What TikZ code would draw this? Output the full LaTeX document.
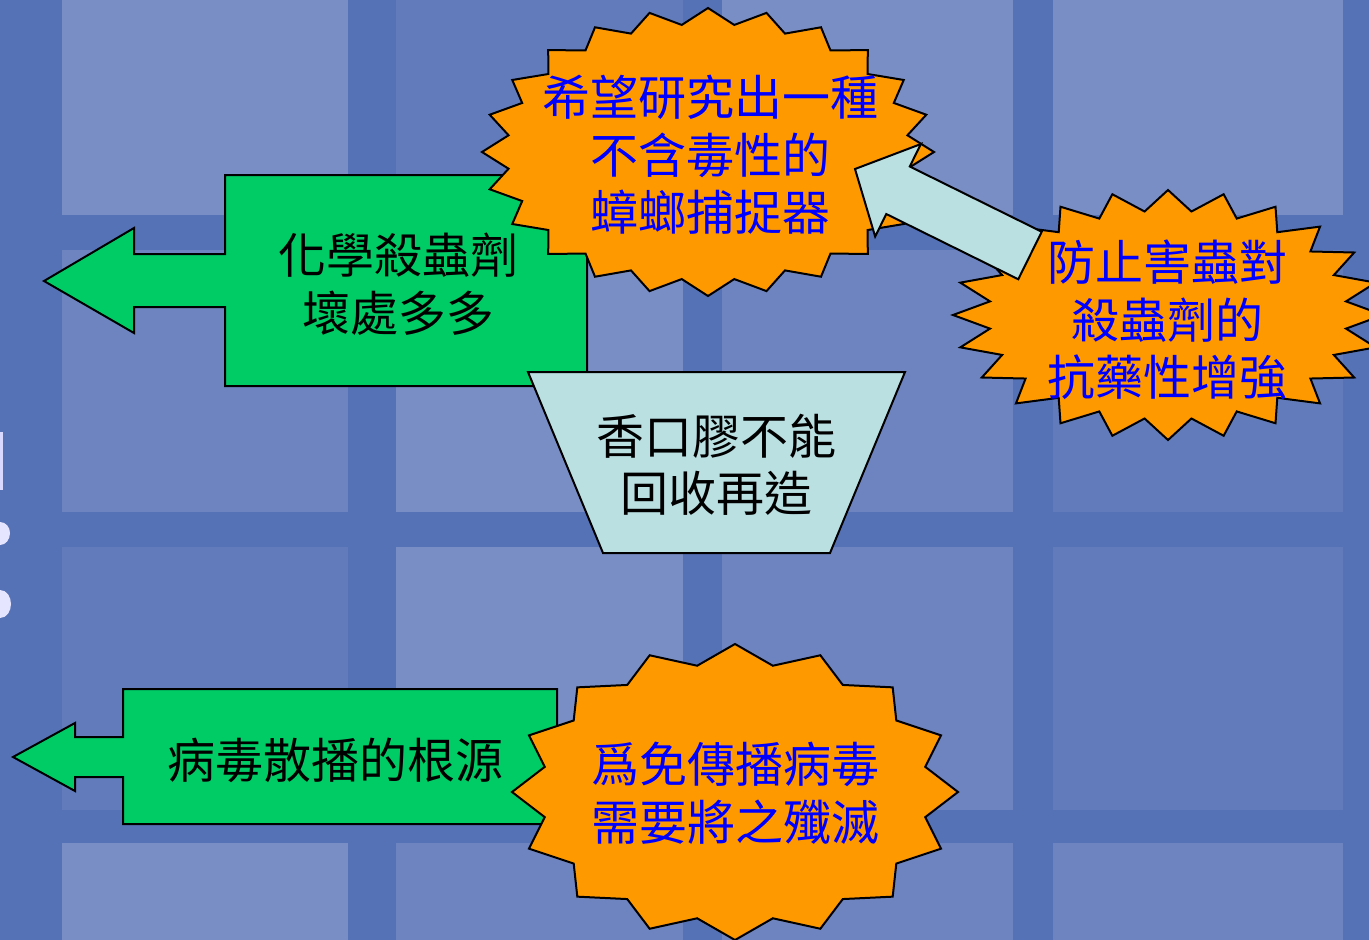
\documentclass[tikz,border=0pt]{standalone}
\usepackage{fontspec}
\newfontfamily\cjk{Noto Sans CJK TC}
\usetikzlibrary{calc}
\definecolor{bgbase}{HTML}{5672B7}
\definecolor{tileA}{HTML}{7A8EC6}
\definecolor{tileB}{HTML}{6E84C0}
\definecolor{tileC}{HTML}{627CBB}
\definecolor{leafgreen}{HTML}{00CC66}
\definecolor{burstorange}{HTML}{FF9900}
\definecolor{paleblue}{HTML}{BAE0E2}
\tikzstyle{txt} = [font={\cjk\fontsize{48}{57.5}\selectfont}, align=center, inner sep=0pt]
\tikzstyle{bluetxt} = [txt, text=blue]
\tikzstyle{greenbox} = [draw=black, line width=2pt, fill=leafgreen, line join=miter]
\tikzstyle{burst} = [draw=black, line width=2pt, fill=burstorange, line join=miter]
\tikzstyle{palebox} = [draw=black, line width=2pt, fill=paleblue, line join=miter]
% #1 centre, #2 rx, #3 ry, #4 points, #5 inner ratio
\newcommand{\seal}[5]{%
  \draw[burst] ($#1+(0,-#3)$)
    \foreach \k [evaluate=\k as \rr using {mod(\k,2)==1 ? #5 : 1}] in {1,...,\numexpr2*#4-1\relax}
      { -- ($#1+({\rr*#2*sin(\k*180/#4)},{-\rr*#3*cos(\k*180/#4)})$) } -- cycle;}
\begin{document}
\begin{tikzpicture}[x=1pt,y=-1pt]
        \useasboundingbox (0,0) rectangle (1369,940);
        \fill[bgbase] (0,0) rectangle (1369,940);
        % tiles
        \foreach \xa/\xb/\ya/\yb/\c in {62/348/-5/215/tileA, 396/683/-5/215/tileC, 722/1013/-5/215/tileA, 1053/1343/-5/215/tileA,
            62/348/250/512/tileB, 396/683/250/512/tileA, 722/1013/250/512/tileB, 1053/1343/250/512/tileC,
            62/348/547/810/tileC, 396/683/547/810/tileA, 722/1013/547/810/tileB, 1053/1343/547/810/tileC,
            62/348/843/945/tileA, 396/683/843/945/tileB, 722/1013/843/945/tileB, 1053/1343/843/945/tileB}
          \fill[\c] (\xa,\ya) rectangle (\xb,\yb);
        % bits of a cut-off title
        \fill[white!85!blue] (0,432) rectangle (3,490);
        \fill[white!90!blue] (0,522) to[out=0,in=90] (10,533) to[out=-90,in=0] (0,545) -- cycle;
        \fill[white!90!blue] (0,590) to[out=0,in=90] (11,604) to[out=-90,in=0] (0,618) -- cycle;

        \draw[greenbox] (44,281) -- (134,228) -- (134,254) -- (225,254) -- (225,175) -- (587,175)
          -- (587,386) -- (225,386) -- (225,307) -- (134,307) -- (134,333) -- cycle;
        \node[txt](chem) at (398,284){化學殺蟲劑\\壞處多多};

        \seal{(708,152)}{226}{144}{24}{0.89}
        \node[bluetxt](trap) at (710,155){希望研究出一種\\不含毒性的\\蟑螂捕捉器};

        \draw[palebox] (528,372) -- (905,372) -- (830,553) -- (603,553) -- cycle;
        \node[txt](gum) at (716,465){香口膠不能\\回收再造};

        \seal{(1168,315)}{215}{125}{24}{0.835}
        \node[bluetxt](resist) at (1167,320){防止害蟲對\\殺蟲劑的\\抗藥性增強};

        % block arrow from resist to trap
        \coordinate (arrtail) at (1030,255.5);
        \coordinate (arrtip) at (855,169);
        \coordinate (hb) at ($(arrtip)!48pt!(arrtail)$);
        \draw[palebox] ($(arrtail)!26.5pt!90:(arrtip)$) -- ($(hb)!26.5pt!-90:(arrtail)$)
          -- ($(hb)!51.6pt!-90:(arrtail)$) -- (arrtip) -- ($(hb)!51.6pt!90:(arrtail)$)
          -- ($(hb)!26.5pt!90:(arrtail)$) -- ($(arrtail)!26.5pt!-90:(arrtip)$) -- cycle;

        \draw[greenbox] (13,757) -- (75,723) -- (75,737) -- (123,737) -- (123,689) -- (557,689)
          -- (557,824) -- (123,824) -- (123,777) -- (75,777) -- (75,791) -- cycle;
        \node[txt](virus) at (335,760){病毒散播的根源};

        \seal{(735,792)}{223}{148}{16}{0.87}
        \node[bluetxt](kill) at (735,793){爲免傳播病毒\\需要將之殲滅};
      \end{tikzpicture}
\end{document}
